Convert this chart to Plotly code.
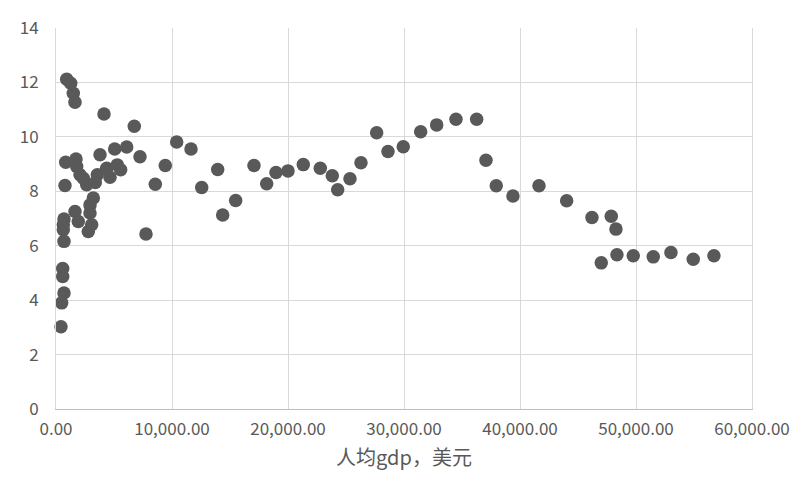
import plotly.graph_objects as go

gdp_per_capita = [
    922, 1267, 1491, 1638, 4138, 6749, 10404, 836, 1724, 3793, 5060, 6094, 7241,
    1784, 2069, 2353, 2646, 3388, 4370, 3560, 5284, 5577, 4655, 9422, 776, 8560,
    3215, 2931, 1638, 2931, 1922, 690, 629, 629, 3077, 2784, 690, 7758, 578, 578,
    690, 491, 431,
    11637, 12560, 13939, 14370, 15490, 17068, 18162, 18964, 19998, 21317, 22783,
    23817, 24283, 25343, 26291, 27644, 28618, 29937, 31437, 32816, 34480, 36264,
    37066, 37954, 39393, 41635, 44022, 46203, 47867, 48272, 47005, 48358, 49763,
    51487, 53013, 54935, 56720,
]
values = [
    12.12, 11.97, 11.60, 11.27, 10.84, 10.39, 9.81, 9.07, 9.19, 9.34, 9.55, 9.63, 9.27,
    8.91, 8.61, 8.48, 8.24, 8.32, 8.85, 8.61, 8.97, 8.79, 8.52, 8.95, 8.21, 8.26,
    7.75, 7.50, 7.26, 7.20, 6.89, 6.98, 6.77, 6.59, 6.77, 6.52, 6.16, 6.43, 5.16, 4.87,
    4.26, 3.90, 3.02,
    9.55, 8.14, 8.80, 7.13, 7.66, 8.95, 8.28, 8.69, 8.75, 8.98, 8.85,
    8.57, 8.06, 8.46, 9.05, 10.15, 9.46, 9.64, 10.19, 10.44, 10.65, 10.65,
    9.14, 8.20, 7.83, 8.20, 7.65, 7.04, 7.08, 6.61, 5.37, 5.67, 5.63,
    5.59, 5.75, 5.50, 5.63,
]

x_title = "人均gdp，美元"

fig = go.Figure(
    go.Scatter(
        x=gdp_per_capita,
        y=values,
        mode="markers",
        marker=dict(size=13.5, color="#595959", line=dict(width=0)),
        hoverinfo="x+y",
        cliponaxis=False,
    )
)

font_family = "Noto Sans CJK SC, Noto Sans, sans-serif"

fig.update_layout(
    width=812,
    height=483,
    margin=dict(l=56, r=60, t=28, b=74),
    paper_bgcolor="white",
    plot_bgcolor="white",
    showlegend=False,
    font=dict(family=font_family, size=17, color="#595959"),
)
fig.update_xaxes(
    range=[0, 60000],
    dtick=10000,
    tickformat=",.2f",
    showgrid=True,
    gridcolor="#d9d9d9",
    gridwidth=1,
    zeroline=False,
    showline=True,
    linecolor="#bfbfbf",
    linewidth=1,
    ticks="outside",
    ticklen=5,
    tickcolor="rgba(0,0,0,0)",
    title=dict(text=x_title, font=dict(size=20, color="#595959"), standoff=11),
    tickfont=dict(size=17, color="#595959"),
)
fig.update_yaxes(
    range=[0, 14],
    dtick=2,
    showgrid=True,
    gridcolor="#d9d9d9",
    gridwidth=1,
    zeroline=False,
    showline=True,
    linecolor="#d9d9d9",
    linewidth=1,
    mirror=True,
    ticks="outside",
    ticklen=13,
    tickcolor="rgba(0,0,0,0)",
    tickfont=dict(size=17, color="#595959"),
)

fig.write_html(
    "out.html",
    config={"displayModeBar": False},
    post_script="document.body.style.margin='0';document.body.style.overflow='hidden';",
)
